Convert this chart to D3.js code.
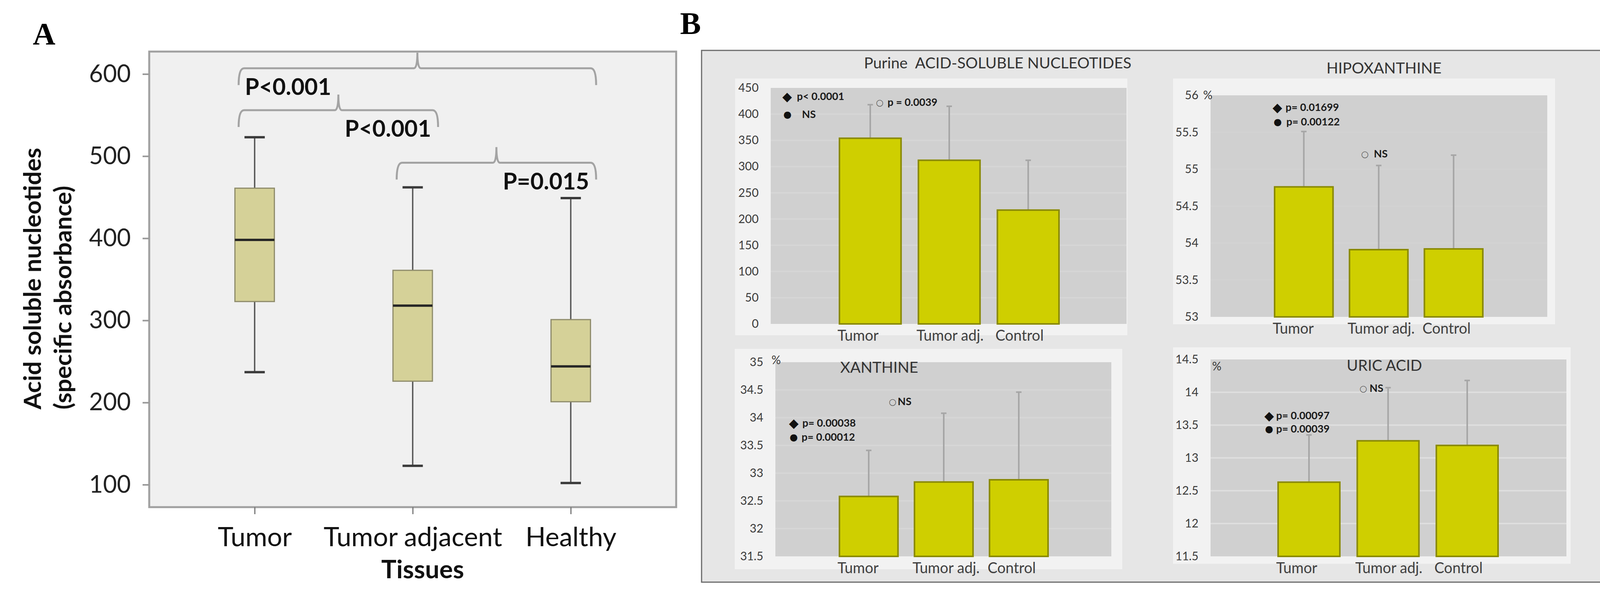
<!DOCTYPE html>
<html>
<head>
<meta charset="utf-8">
<script src="https://cdn.jsdelivr.net/npm/d3@7"></script>
<style>
  html, body { margin: 0; padding: 0; background: #fff; }
  svg { display: block; }
</style>
</head>
<body>
<div id="chart"></div>
<script>
// ---- Panel A: box plot data ----
const tissues = ["Tumor", "Tumor adjacent", "Healthy"];
const whiskerLow = [237, 123, 102];
const quartile1 = [323, 226, 201];
const medians = [398, 318, 244];
const quartile3 = [461, 361, 301];
const whiskerHigh = [523, 462, 449];
const ticksA = [100, 200, 300, 400, 500, 600];
const bracketPairs = [[0, 2], [0, 1], [1, 2]];
const bracketLevels = [607, 556, 492];
const bracketLabels = ["P<0.001", "P<0.001", "P=0.015"];

// ---- Panel B: bar charts (mean + SD) ----
const groups = ["Tumor", "Tumor adj.", "Control"];
const purineMean = [354, 312, 217];
const purineSD = [64, 103, 95];
const purineTicks = [0, 50, 100, 150, 200, 250, 300, 350, 400, 450];
const hipoMean = [54.76, 53.91, 53.92];
const hipoSD = [0.75, 1.14, 1.27];
const hipoTicks = [53, 53.5, 54, 54.5, 55, 55.5, 56];
const xanMean = [32.58, 32.84, 32.88];
const xanSD = [0.83, 1.24, 1.58];
const xanTicks = [31.5, 32, 32.5, 33, 33.5, 34, 34.5, 35];
const uricMean = [12.63, 13.26, 13.19];
const uricSD = [0.72, 0.81, 0.99];
const uricTicks = [11.5, 12, 12.5, 13, 13.5, 14, 14.5];

const purineNotes = [["◆", "p< 0.0001"], ["●", "NS"], ["○", "p = 0.0039"]];
const hipoNotes = [["◆", "p= 0.01699"], ["●", "p= 0.00122"], ["○", "NS"]];
const xanNotes = [["◆", "p= 0.00038"], ["●", "p= 0.00012"], ["○", "NS"]];
const uricNotes = [["◆", "p= 0.00097"], ["●", "p= 0.00039"], ["○", "NS"]];

const W = 4288, H = 1528;
const sans = "Lato, 'Open Sans', sans-serif";

const svg = d3.select("#chart").append("svg")
  .attr("width", W)
  .attr("height", H);

svg.append("rect").attr("width", W).attr("height", H).attr("fill", "#fff");

// pick a font size so a sample string gets roughly the width seen in the figure
function fitSize(sample, weight, nominal, target) {
  const t = svg.append("text").attr("font-family", sans).attr("font-weight", weight)
    .attr("font-size", nominal).style("white-space", "pre").text(sample);
  const len = t.node().getComputedTextLength();
  t.remove();
  if (!len) return nominal;
  return Math.max(nominal * 0.85, Math.min(nominal * 1.15, nominal * target / len));
}

const fsTickA = fitSize("600", "normal", 62, 107);
const fsCatA = fitSize("Tumor adjacent", "normal", 60, 457);
const fsP = fitSize("P<0.001", "bold", 58, 221);
const fsTissues = fitSize("Tissues", "bold", 66, 212);
const fsYTitle = fitSize("Acid soluble nucleotides", "bold", 62, 670);
const fsTitleB = fitSize("Purine  ACID-SOLUBLE NUCLEOTIDES", "normal", 38, 685);
const fsCatB = fitSize("Tumor adj.", "normal", 35, 172);
const fsTickB = fitSize("450", "normal", 30, 52);
const fsNote = fitSize("p= 0.01699", "bold", 25, 137);

// panel letters
svg.append("text").attr("x", 84).attr("y", 114).text("A")
  .attr("font-family", "'Liberation Serif', serif").attr("font-weight", "bold").attr("font-size", 80);
svg.append("text").attr("x", 1741).attr("y", 87).text("B")
  .attr("font-family", "'Liberation Serif', serif").attr("font-weight", "bold").attr("font-size", 80);

// ================= Panel A =================
const A = { left: 382, right: 1731, top: 132, bottom: 1298 };
const yA = d3.scaleLinear().domain([100, 600]).range([1240.5, 189.5]);
const xA = d3.scalePoint().domain(tissues).range([A.left, A.right]).padding(0.667);

const gA = svg.append("g");

gA.append("rect")
  .attr("x", A.left).attr("y", A.top)
  .attr("width", A.right - A.left).attr("height", A.bottom - A.top)
  .attr("fill", "#f0f0f0").attr("stroke", "#a0a0a0").attr("stroke-width", 5);

// y axis
const yAxisA = gA.append("g")
  .attr("transform", `translate(${A.left},0)`)
  .call(d3.axisLeft(yA).tickValues(ticksA).tickSize(17).tickPadding(30));
yAxisA.select(".domain").remove();
yAxisA.selectAll("line").attr("stroke", "#999").attr("stroke-width", 4);
yAxisA.selectAll("text").attr("font-family", sans).attr("font-size", fsTickA).attr("fill", "#222");

// x axis
const xAxisA = gA.append("g")
  .attr("transform", `translate(0,${A.bottom})`)
  .call(d3.axisBottom(xA).tickSize(18).tickPadding(34));
xAxisA.select(".domain").remove();
xAxisA.selectAll("line").attr("stroke", "#777").attr("stroke-width", 3);
xAxisA.selectAll("text").attr("font-family", sans).attr("font-size", fsCatA).attr("fill", "#111");

// axis titles
gA.append("text").attr("x", 1082).attr("y", 1480).attr("text-anchor", "middle")
  .attr("font-family", sans).attr("font-weight", "bold").attr("font-size", fsTissues).attr("fill", "#111")
  .text("Tissues");
gA.append("text").attr("transform", "translate(105,1048) rotate(-90)")
  .attr("font-family", sans).attr("font-weight", "bold").attr("font-size", fsYTitle).attr("fill", "#111")
  .text("Acid soluble nucleotides");
gA.append("text").attr("transform", "translate(183,1048) rotate(-90)")
  .attr("font-family", sans).attr("font-weight", "bold").attr("font-size", fsYTitle).attr("fill", "#111")
  .text("(specific absorbance)");

// boxes
const boxW = 101, capW = 52;
const boxes = gA.selectAll(".box").data(tissues).enter().append("g").attr("class", "box");

boxes.append("line")
  .attr("x1", d => xA(d)).attr("x2", d => xA(d))
  .attr("y1", (d, i) => yA(whiskerHigh[i])).attr("y2", (d, i) => yA(whiskerLow[i]))
  .attr("stroke", "#555").attr("stroke-width", 3.5);

boxes.selectAll(".cap")
  .data((d, i) => [whiskerHigh[i], whiskerLow[i]].map(v => ({ x: xA(d), v })))
  .enter().append("line").attr("class", "cap")
  .attr("x1", d => d.x - capW / 2).attr("x2", d => d.x + capW / 2)
  .attr("y1", d => yA(d.v)).attr("y2", d => yA(d.v))
  .attr("stroke", "#3a3a3a").attr("stroke-width", 6);

boxes.append("rect")
  .attr("x", d => xA(d) - boxW / 2).attr("width", boxW)
  .attr("y", (d, i) => yA(quartile3[i]))
  .attr("height", (d, i) => yA(quartile1[i]) - yA(quartile3[i]))
  .attr("fill", "#d5d198").attr("stroke", "#8e8b6a").attr("stroke-width", 3);

boxes.append("line")
  .attr("x1", d => xA(d) - boxW / 2).attr("x2", d => xA(d) + boxW / 2)
  .attr("y1", (d, i) => yA(medians[i])).attr("y2", (d, i) => yA(medians[i]))
  .attr("stroke", "#262626").attr("stroke-width", 6);

// significance braces
function bracePath(x0, x1, yBar, yLeg, yTip) {
  const xm = (x0 + x1) / 2, r = 14;
  return `M${x0},${yLeg} Q${x0},${yBar} ${x0 + r},${yBar} L${xm - 9},${yBar} ` +
    `Q${xm},${yBar} ${xm},${yTip} Q${xm},${yBar} ${xm + 9},${yBar} ` +
    `L${x1 - r},${yBar} Q${x1},${yBar} ${x1},${yLeg}`;
}

bracketPairs.forEach(([a, b], i) => {
  const x0 = xA(tissues[a]) - 41;
  const x1 = xA(tissues[b]) + 65;
  const yBar = yA(bracketLevels[i]);
  gA.append("path")
    .attr("d", bracePath(x0, x1, yBar, yBar + 43, Math.max(A.top, yBar - 40)))
    .attr("fill", "none").attr("stroke", "#a3a3a3").attr("stroke-width", 5);
  gA.append("text")
    .attr("x", i === 0 ? x0 + 16 : x1 - 18)
    .attr("y", yBar + 68)
    .attr("text-anchor", i === 0 ? "start" : "end")
    .attr("font-family", sans).attr("font-weight", "bold").attr("font-size", fsP).attr("fill", "#111")
    .text(bracketLabels[i]);
});

// ================= Panel B =================
svg.append("rect")
  .attr("x", 1796).attr("y", 129).attr("width", 4238 - 1796).attr("height", 1490 - 129)
  .attr("fill", "#e6e6e6").attr("stroke", "#6a6a6a").attr("stroke-width", 3);

const charts = [
  {
    title: "Purine  ACID-SOLUBLE NUCLEOTIDES", titleX: 2554, titleY: 161, titleAnchor: "middle",
    outer: [1882, 201, 2886, 858], plot: [1973, 225, 2884, 829], bars: [2149, 2711],
    domain: [0, 450], ticks: purineTicks, mean: purineMean, sd: purineSD, grid: "#d6d6d6",
    pct: null, notes: purineNotes,
    noteAt: [[2015, 2040, 247], [2016, 2053, 293], [2252, 2272, 262]]
  },
  {
    title: "HIPOXANTHINE", titleX: 3543, titleY: 174, titleAnchor: "middle",
    outer: [3003, 201, 3981, 830], plot: [3099, 244, 3961, 811], bars: [3263, 3796],
    domain: [53, 56], ticks: hipoTicks, mean: hipoMean, sd: hipoSD, grid: "#d2d2d2",
    pct: [3080, 244], notes: hipoNotes,
    noteAt: [[3270, 3291, 275], [3271, 3293, 312], [3494, 3517, 394]]
  },
  {
    title: "XANTHINE", titleX: 2151, titleY: 940, titleAnchor: "start",
    outer: [1881, 893, 2873, 1457], plot: [1985, 927, 2845, 1424], bars: [2149, 2683],
    domain: [31.5, 35], ticks: xanTicks, mean: xanMean, sd: xanSD, grid: "#d6d6d6",
    pct: [1975, 922], notes: xanNotes,
    noteAt: [[2032, 2054, 1083], [2032, 2052, 1119], [2285, 2298, 1028]]
  },
  {
    title: "URIC ACID", titleX: 3544, titleY: 935, titleAnchor: "middle",
    outer: [3003, 889, 4021, 1443], plot: [3099, 920, 4010, 1424], bars: [3272, 3835],
    domain: [11.5, 14.5], ticks: uricTicks, mean: uricMean, sd: uricSD, grid: "#dedede",
    pct: [3103, 938], notes: uricNotes,
    noteAt: [[3249, 3267, 1064], [3249, 3267, 1098], [3490, 3506, 994]]
  }
];

function drawBarChart(c) {
  const g = svg.append("g");
  const [ox0, oy0, ox1, oy1] = c.outer;
  const [px0, py0, px1, py1] = c.plot;

  g.append("rect").attr("x", ox0).attr("y", oy0).attr("width", ox1 - ox0).attr("height", oy1 - oy0)
    .attr("fill", "#f2f2f2");
  g.append("rect").attr("x", px0).attr("y", py0).attr("width", px1 - px0).attr("height", py1 - py0)
    .attr("fill", "#d0d0d0");

  const y = d3.scaleLinear().domain(c.domain).range([py1, py0]);
  const x = d3.scaleBand().domain(groups).range(c.bars).paddingInner(0.22).paddingOuter(0);

  // gridlines
  g.selectAll(".grid").data(c.ticks.slice(1, -1)).enter().append("line")
    .attr("x1", px0).attr("x2", px1)
    .attr("y1", d => y(d)).attr("y2", d => y(d))
    .attr("stroke", c.grid).attr("stroke-width", 4);

  const yAxis = g.append("g").attr("transform", `translate(${px0},0)`)
    .call(d3.axisLeft(y).tickValues(c.ticks).tickSize(0).tickPadding(31).tickFormat(d => String(d)));
  yAxis.select(".domain").remove();
  yAxis.selectAll("text").attr("font-family", sans).attr("font-size", fsTickB).attr("fill", "#3a3a3a");

  if (c.pct) {
    g.append("text").attr("x", c.pct[0]).attr("y", c.pct[1]).attr("dy", "0.35em")
      .attr("font-family", sans).attr("font-size", fsTickB).attr("fill", "#3a3a3a").text("%");
  }

  g.append("text").attr("x", c.titleX).attr("y", c.titleY).attr("dy", "0.35em")
    .attr("text-anchor", c.titleAnchor).style("white-space", "pre")
    .attr("font-family", sans).attr("font-size", fsTitleB).attr("fill", "#333")
    .text(c.title);

  // error bars (upper SD only)
  groups.forEach((grp, i) => {
    const cx = x(grp) + x.bandwidth() / 2;
    const top = y(c.mean[i] + c.sd[i]);
    g.append("line").attr("x1", cx).attr("x2", cx)
      .attr("y1", y(c.mean[i])).attr("y2", top)
      .attr("stroke", "#a6a6a6").attr("stroke-width", 4);
    g.append("line").attr("x1", cx - 7).attr("x2", cx + 7)
      .attr("y1", top).attr("y2", top)
      .attr("stroke", "#a6a6a6").attr("stroke-width", 4);
  });

  g.selectAll(".bar").data(groups).enter().append("rect")
    .attr("x", d => x(d)).attr("width", x.bandwidth())
    .attr("y", (d, i) => y(c.mean[i]))
    .attr("height", (d, i) => py1 - y(c.mean[i]))
    .attr("fill", "#cfcf00").attr("stroke", "#8a8a00").attr("stroke-width", 4);

  g.selectAll(".xlab").data(groups).enter().append("text")
    .attr("x", d => x(d) - 5).attr("y", py1 + 30).attr("dy", "0.35em")
    .attr("font-family", sans).attr("font-size", fsCatB).attr("fill", "#404040")
    .text(d => d);

  const symSize = { "◆": 32, "●": 24, "○": 22 };
  c.notes.forEach(([sym, txt], i) => {
    const [mx, tx, ny] = c.noteAt[i];
    g.append("text").attr("x", mx).attr("y", ny).attr("dy", "0.35em").attr("text-anchor", "middle")
      .attr("font-family", "'DejaVu Sans', sans-serif").attr("font-size", symSize[sym])
      .attr("fill", sym === "○" ? "#555" : "#111").text(sym);
    g.append("text").attr("x", tx).attr("y", ny).attr("dy", "0.35em")
      .attr("font-family", sans).attr("font-weight", "bold").attr("font-size", fsNote).attr("fill", "#1a1a1a")
      .text(txt);
  });
}

charts.forEach(drawBarChart);
</script>
</body>
</html>
